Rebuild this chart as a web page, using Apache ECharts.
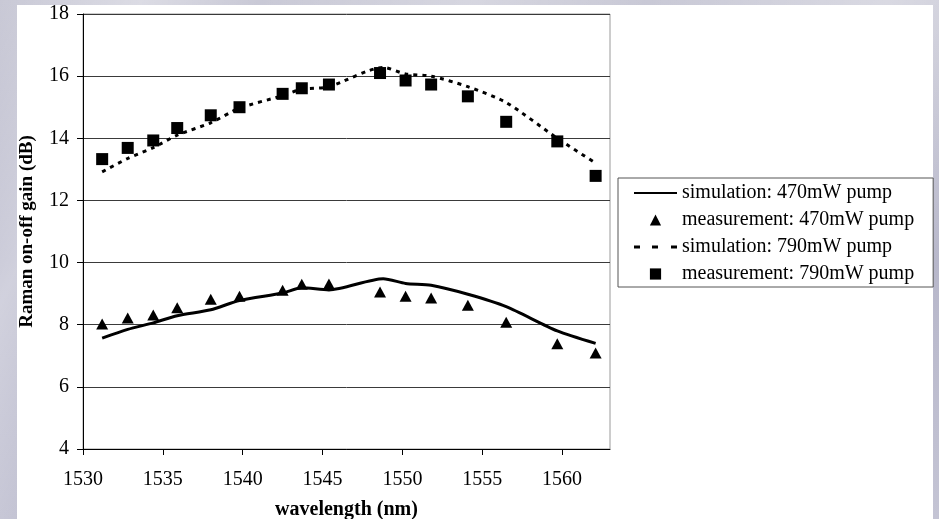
<!DOCTYPE html>
<html>
<head>
<meta charset="utf-8">
<script src="https://cdn.jsdelivr.net/npm/echarts@6/dist/echarts.min.js"></script>
<style>
  html, body { margin: 0; padding: 0; width: 939px; height: 519px; overflow: hidden; }
  body {
    background:
      linear-gradient(115deg, rgba(255,255,255,0) 0%, rgba(255,255,255,0.35) 12%, rgba(255,255,255,0) 22%, rgba(255,255,255,0.25) 40%, rgba(255,255,255,0) 55%, rgba(255,255,255,0.3) 75%, rgba(255,255,255,0) 90%),
      linear-gradient(180deg, #c9c9d6 0%, #b7b7ca 50%, #c4c4d4 100%);
  }
  #panel { position: absolute; left: 17px; top: 5px; width: 916px; height: 514px; background: #ffffff; }
  #chart { position: absolute; left: 0; top: 0; width: 939px; height: 519px; }
</style>
</head>
<body>
<div id="panel"></div>
<div id="chart"></div>
<script>
// Raman on-off gain versus wavelength for two pump powers
const xTicks = [1530, 1535, 1540, 1545, 1550, 1555, 1560];

// measured wavelengths (nm)
const measWavelength = [1531.2, 1532.8, 1534.4, 1535.9, 1538.0, 1539.8, 1542.5, 1543.7,
                        1545.4, 1548.6, 1550.2, 1551.8, 1554.1, 1556.5, 1559.7, 1562.1];
// measured gain (dB)
const meas470 = [8.02, 8.22, 8.31, 8.55, 8.82, 8.92, 9.11, 9.30,
                 9.31, 9.05, 8.92, 8.86, 8.63, 8.08, 7.39, 7.09];
const meas790 = [13.33, 13.69, 13.93, 14.33, 14.74, 15.00, 15.43, 15.61,
                 15.73, 16.10, 15.86, 15.73, 15.35, 14.53, 13.90, 12.79];

// simulated wavelengths (nm) and gain (dB)
const simWavelength = [1531.2, 1532.8, 1534.4, 1535.9, 1538.0, 1539.8, 1542.5, 1543.7,
                       1545.4, 1548.8, 1550.2, 1551.8, 1554.1, 1556.5, 1559.7, 1562.1];
const sim470 = [7.57, 7.85, 8.06, 8.29, 8.48, 8.78, 9.02, 9.19,
                9.12, 9.48, 9.33, 9.27, 8.98, 8.58, 7.80, 7.40];
const sim790 = [12.92, 13.35, 13.70, 14.10, 14.50, 14.97, 15.37, 15.58,
                15.66, 16.28, 16.07, 16.00, 15.66, 15.15, 14.00, 13.20];

const seriesNames = [
  'simulation: 470mW pump',
  'measurement: 470mW pump',
  'simulation: 790mW pump',
  'measurement: 790mW pump'
];

const pairs = (xs, ys) => xs.map((x, i) => [x, ys[i]]);
const serif = "'Liberation Serif', 'Times New Roman', serif";

const chart = echarts.init(document.getElementById('chart'), null, { renderer: 'canvas' });

chart.setOption({
  backgroundColor: 'transparent',
  animation: false,
  grid: {
    left: 83, top: 14, width: 527, height: 435,
    containLabel: false,
    outerBoundsMode: 'none',
    show: true, borderColor: '#9a9a9a', borderWidth: 1, backgroundColor: 'transparent'
  },
  legend: {
    orient: 'vertical',
    left: 618, top: 178,
    backgroundColor: '#ffffff',
    borderColor: '#555555', borderWidth: 1, borderRadius: 0,
    padding: [5, 19, 3, 15],
    itemWidth: 43, itemHeight: 14, itemGap: 7,
    textStyle: { fontFamily: serif, fontSize: 20, color: '#000' },
    data: [
      { name: seriesNames[0], itemStyle: { opacity: 0 } },
      { name: seriesNames[1] },
      {
        name: seriesNames[2],
        // three short dashes for the dotted simulation curve
        icon: 'path://M0,0h6v3h-6z M18,0h6v3h-6z M37,0h6v3h-6z',
        itemStyle: { color: '#000', opacity: 1 }
      },
      { name: seriesNames[3] }
    ]
  },
  xAxis: {
    type: 'value',
    min: 1530, max: 1563, interval: 5,
    name: 'wavelength (nm)',
    nameLocation: 'middle', nameGap: 51,
    nameTextStyle: { fontFamily: serif, fontSize: 20, fontWeight: 'bold', color: '#000' },
    axisLine: { show: true, onZero: false, lineStyle: { color: '#000', width: 1 } },
    axisTick: { show: true, length: 6, inside: false, customValues: xTicks, lineStyle: { color: '#000' } },
    axisLabel: {
      customValues: xTicks, margin: 21,
      formatter: v => String(v),
      fontFamily: serif, fontSize: 20, color: '#000'
    },
    splitLine: { show: false }
  },
  yAxis: {
    type: 'value',
    min: 4, max: 18, interval: 2,
    name: 'Raman on-off gain (dB)',
    nameLocation: 'middle', nameGap: 46, nameRotate: 90,
    nameTextStyle: { fontFamily: serif, fontSize: 19, fontWeight: 'bold', color: '#000' },
    axisLine: { show: true, onZero: false, lineStyle: { color: '#000', width: 1 } },
    axisTick: { show: true, length: 6, inside: false, lineStyle: { color: '#000' } },
    axisLabel: { margin: 14, fontFamily: serif, fontSize: 20, color: '#000' },
    splitLine: { show: true, lineStyle: { color: '#3a3a3a', width: 1 } }
  },
  series: [
    {
      name: seriesNames[0],
      type: 'line',
      data: pairs(simWavelength, sim470),
      symbol: 'none',
      smooth: 0.25,
      lineStyle: { color: '#000', width: 3 },
      itemStyle: { color: '#000' },
      z: 3
    },
    {
      name: seriesNames[1],
      type: 'line',
      data: pairs(measWavelength, meas470),
      symbol: 'triangle',
      symbolSize: [12, 11],
      showSymbol: true,
      lineStyle: { color: 'transparent', width: 0, opacity: 0 },
      itemStyle: { color: '#000' },
      z: 4
    },
    {
      name: seriesNames[2],
      type: 'line',
      data: pairs(simWavelength, sim790),
      symbol: 'none',
      smooth: 0.25,
      lineStyle: { color: '#000', width: 3, type: [4, 5] },
      itemStyle: { color: '#000' },
      z: 3
    },
    {
      name: seriesNames[3],
      type: 'line',
      data: pairs(measWavelength, meas790),
      symbol: 'rect',
      symbolSize: 12,
      showSymbol: true,
      lineStyle: { color: 'transparent', width: 0, opacity: 0 },
      itemStyle: { color: '#000' },
      z: 4
    }
  ]
});
</script>
</body>
</html>
